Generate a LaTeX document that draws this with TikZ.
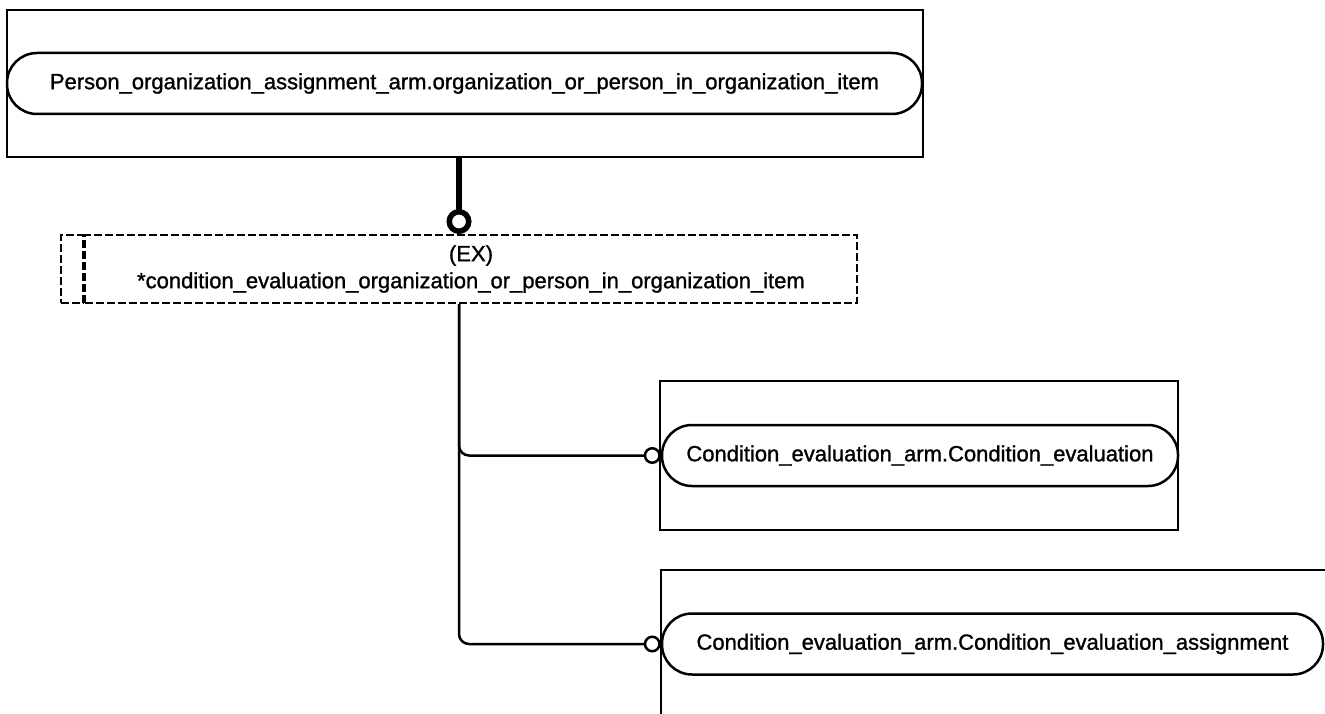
\documentclass[tikz,border=0pt]{standalone}
\usepackage{fontspec}
\setmainfont{Liberation Sans}
\newfontfamily\diagfont[FakeBold=1.2]{Liberation Sans}
\usetikzlibrary{arrows.meta,calc}

\begin{document}
\begin{tikzpicture}[x=1pt, y=-1pt, font=\diagfont\fontsize{22}{27}\selectfont,
  frame/.style={draw, line width=2pt, inner sep=0pt},
  pill/.style={draw, line width=2.5pt, rounded corners=30pt, minimum height=61pt, inner sep=0pt},
  exbox/.style={draw, line width=2pt, dash pattern=on 8pt off 3pt, minimum height=68pt, inner sep=0pt},
  conn/.style={line width=2.5pt, rounded corners=10pt, -{Circle[open, length=17pt, width=17pt]}},
  mainconn/.style={line width=5.5pt, -{Circle[open, length=25pt, width=25pt]}}]
\useasboundingbox (0,0) rectangle (1325,714);
\clip (0,0) rectangle (1325,714);

\node[frame, minimum width=916pt, minimum height=147pt] (orgframe) at (465,83.5) {};
\node[pill, minimum width=915pt] (org) at (464.5,83.5) {Person\_organization\_assignment\_arm.organization\_or\_person\_in\_organization\_item};

\node[exbox, minimum width=772pt, align=center] (ex) at (471,269) {(EX)\\*condition\_evaluation\_organization\_or\_person\_in\_organization\_item};
\node[exbox, minimum width=22pt, anchor=east] (exbar) at (ex.west) {};
\coordinate (extop) at ($(exbar.north west)!0.5!(ex.north east)$);
\coordinate (exbot) at ($(exbar.south west)!0.5!(ex.south east)$);

\node[frame, minimum width=518pt, minimum height=149pt] (ceframe) at (919,455.5) {};
\node[pill, minimum width=516pt] (ce) at (920,455.5) {Condition\_evaluation\_arm.Condition\_evaluation};

\node[frame, minimum width=690pt, minimum height=180pt, anchor=north west] (ceaframe) at (660,569) {};
\node[pill, minimum width=661pt] (cea) at (992.5,644) {Condition\_evaluation\_arm.Condition\_evaluation\_assignment};

\draw[mainconn] (extop |- orgframe.south) -- (extop);
\draw[conn] (exbot) |- (ce.west);
\draw[conn] (exbot) |- (cea.west);
\end{tikzpicture}
\end{document}
